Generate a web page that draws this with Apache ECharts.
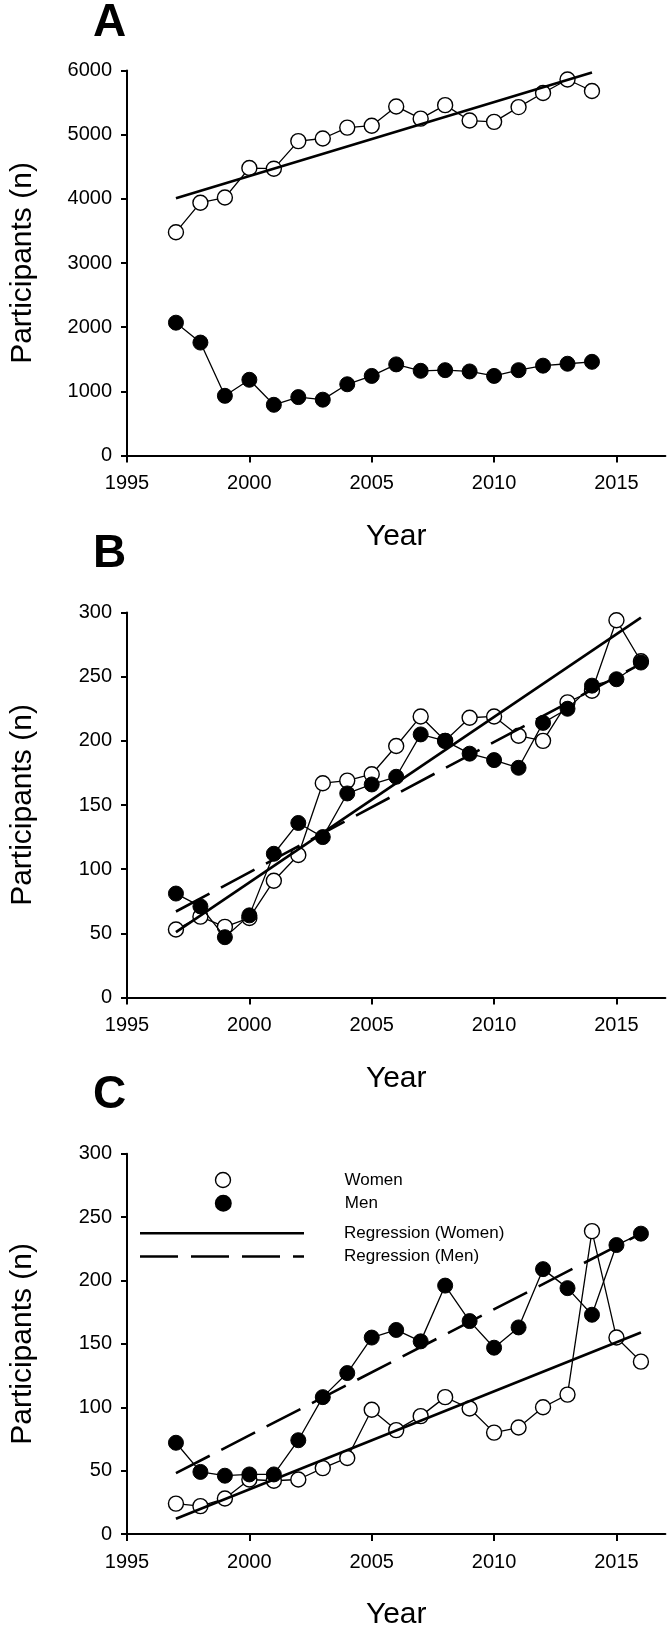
<!DOCTYPE html>
<html>
<head>
<meta charset="utf-8">
<script src="https://cdn.jsdelivr.net/npm/echarts@6/dist/echarts.min.js"></script>
<style>
html,body{margin:0;padding:0;background:#fff;}
#chart{width:669px;height:1631px;}
</style>
</head>
<body>
<div id="chart"></div>
<script>
// ---- data ----
const yearsA = [1997,1998,1999,2000,2001,2002,2003,2004,2005,2006,2007,2008,2009,2010,2011,2012,2013,2014];
const womenA = [3480,3940,4020,4480,4470,4900,4940,5110,5140,5440,5250,5460,5220,5200,5430,5650,5860,5680];
const menA   = [2070,1760,930,1180,790,910,870,1110,1240,1420,1320,1330,1310,1240,1330,1400,1430,1460];
const regYearsA = [1997, 2014];
const regWomenA = [4010, 5970];

const yearsBC = [1997,1998,1999,2000,2001,2002,2003,2004,2005,2006,2007,2008,2009,2010,2011,2012,2013,2014,2015,2016];
const womenB = [53,63,55,62,91,111,167,169,174,196,219,200,218,219,204,200,230,239,294,262];
const menB   = [81,71,47,64,112,136,125,159,166,172,205,200,190,185,179,214,225,243,248,261];
const regYearsBC = [1997, 2016];
const regWomenB = [51, 296];
const regMenB   = [67, 260];

const womenC = [24,22,28,43,42,43,52,60,98,82,93,108,99,80,84,100,110,239,155,136];
const menC   = [72,49,46,47,47,74,108,127,155,161,152,196,168,147,163,209,194,173,228,237];
const regWomenC = [12, 159];
const regMenC   = [48, 237];

const xTicks = [1995, 2000, 2005, 2010, 2015];
const panelLetters = ['A', 'B', 'C'];
const legendNames = ['Women', 'Men', 'Regression (Women)', 'Regression (Men)'];

// ---- build ----
const FONT = "'Liberation Sans', Arial, Helvetica, sans-serif";
const pair = (xs, ys) => xs.map((x, i) => [x, ys[i]]);
const plain = v => String(v);

const gridTops = [70.5, 612.5, 1153.8];
const grids = gridTops.map(t => ({left: 116.7, top: t, width: 548.7, height: 385}));

const xAxes = grids.map((g, i) => ({
  type: 'value', gridIndex: i, min: 1995, max: 2017, interval: 5,
  axisLine: {show: true, onZero: false, lineStyle: {color: '#000', width: 2}},
  axisTick: {show: true, length: 7, lineStyle: {color: '#000', width: 2}, customValues: xTicks},
  axisLabel: {color: '#000', fontSize: 20, fontFamily: FONT, margin: 18, customValues: xTicks, formatter: plain},
  splitLine: {show: false},
  name: 'Year', nameLocation: 'middle', nameGap: 66,
  nameTextStyle: {color: '#000', fontSize: 30, fontFamily: FONT}
}));

const yMax = [6000, 300, 300];
const yInt = [1000, 50, 50];
const yAxes = grids.map((g, i) => ({
  type: 'value', gridIndex: i, min: 0, max: yMax[i], interval: yInt[i],
  axisLine: {show: true, onZero: false, lineStyle: {color: '#000', width: 2}},
  axisTick: {show: true, length: 6, lineStyle: {color: '#000', width: 2}},
  axisLabel: {color: '#000', fontSize: 20, fontFamily: FONT, margin: 15, formatter: plain},
  splitLine: {show: false},
  name: 'Participants (n)', nameLocation: 'middle', nameRotate: 90, nameGap: 89,
  nameTextStyle: {color: '#000', fontSize: 30, fontFamily: FONT}
}));

function womenSeries(name, i, data) {
  return {
    name: name, type: 'line', xAxisIndex: i, yAxisIndex: i, data: data,
    symbol: 'circle', symbolSize: 15, showAllSymbol: true, z: 2,
    color: '#fff',
    itemStyle: {color: '#fff', borderColor: '#000', borderWidth: 1.4},
    lineStyle: {color: '#000', width: 1.3}
  };
}
function menSeries(name, i, data) {
  return {
    name: name, type: 'line', xAxisIndex: i, yAxisIndex: i, data: data,
    symbol: 'circle', symbolSize: 15, showAllSymbol: true, z: 3,
    color: '#000',
    itemStyle: {color: '#000', borderColor: '#000', borderWidth: 1},
    lineStyle: {color: '#000', width: 1.3}
  };
}
function regSeries(name, i, data, dashed) {
  return {
    name: name, type: 'line', xAxisIndex: i, yAxisIndex: i, data: data,
    symbol: 'none', z: 4, color: '#000',
    itemStyle: {color: '#000'},
    lineStyle: {color: '#000', width: 2.6, type: dashed ? [38, 13] : 'solid'}
  };
}

const series = [
  womenSeries(legendNames[0], 0, pair(yearsA, womenA)),
  menSeries(legendNames[1], 0, pair(yearsA, menA)),
  regSeries(legendNames[2], 0, pair(regYearsA, regWomenA), false),

  womenSeries(legendNames[0], 1, pair(yearsBC, womenB)),
  menSeries(legendNames[1], 1, pair(yearsBC, menB)),
  regSeries(legendNames[2], 1, pair(regYearsBC, regWomenB), false),
  regSeries(legendNames[3], 1, pair(regYearsBC, regMenB), true),

  womenSeries(legendNames[0], 2, pair(yearsBC, womenC)),
  menSeries(legendNames[1], 2, pair(yearsBC, menC)),
  regSeries(legendNames[2], 2, pair(regYearsBC, regWomenC), false),
  regSeries(legendNames[3], 2, pair(regYearsBC, regMenC), true)
];

const titleTops = [0, 531, 1072];
const titles = panelLetters.map((t, i) => ({
  text: t, left: 93, top: titleTops[i], padding: 0,
  textStyle: {color: '#000', fontSize: 46, fontWeight: 'bold', fontFamily: FONT}
}));

const legendText = {color: '#000', fontSize: 17, fontFamily: FONT};
const dashIcon = 'path://M0,0h38v2.4h-38z M51,0h38v2.4h-38z M102,0h38v2.4h-38z M153,0h11v2.4h-11z';
const legends = [
  {data: [{name: legendNames[0], icon: 'circle'}], left: 214.8, top: 1171.5, itemWidth: 15, itemHeight: 15,
   itemStyle: {borderWidth: 1.4, borderColor: '#000', color: '#fff'},
   textStyle: Object.assign({padding: [0, 0, 0, 109]}, legendText)},
  {data: [{name: legendNames[1], icon: 'circle'}], left: 214.8, top: 1194.8, itemWidth: 15, itemHeight: 15,
   itemStyle: {color: '#000'},
   textStyle: Object.assign({padding: [0, 0, 0, 109]}, legendText)},
  {data: [{name: legendNames[2], icon: 'rect'}], left: 140, top: 1224.8, itemWidth: 164, itemHeight: 2.4,
   itemStyle: {color: '#000'},
   textStyle: Object.assign({padding: [0, 0, 0, 35]}, legendText)},
  {data: [{name: legendNames[3], icon: dashIcon}], left: 140, top: 1248, itemWidth: 164, itemHeight: 2.4,
   itemStyle: {color: '#000'},
   textStyle: Object.assign({padding: [0, 0, 0, 35]}, legendText)}
].map(l => Object.assign({orient: 'horizontal', padding: 0, selectedMode: false, inactiveColor: '#000'}, l));

const chart = echarts.init(document.getElementById('chart'), null, {renderer: 'canvas'});
chart.setOption({
  animation: false,
  backgroundColor: '#fff',
  textStyle: {fontFamily: FONT},
  title: titles,
  legend: legends,
  grid: grids,
  xAxis: xAxes,
  yAxis: yAxes,
  series: series
});
</script>
</body>
</html>
